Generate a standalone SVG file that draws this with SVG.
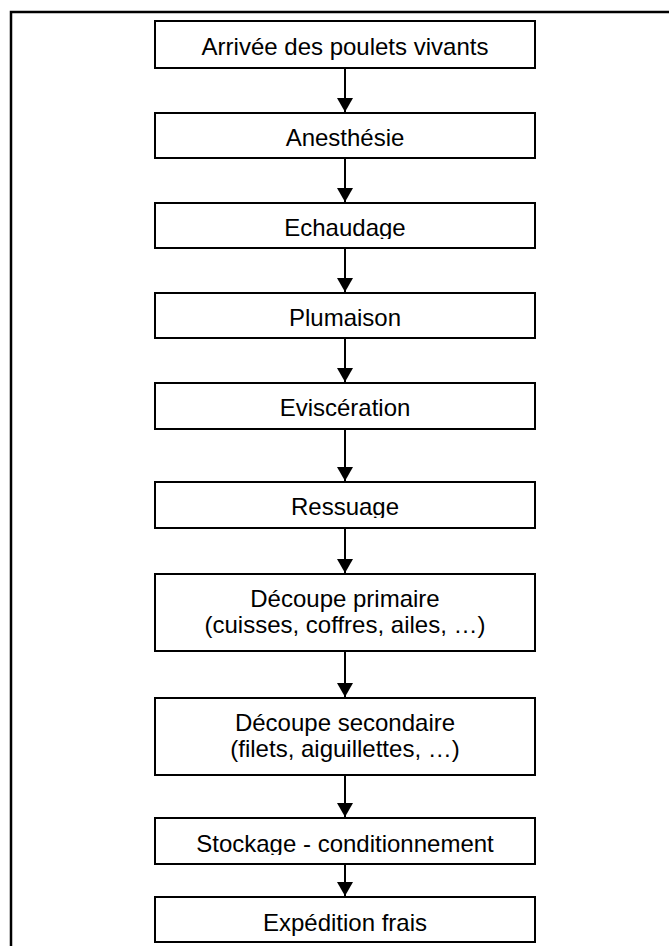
<svg xmlns="http://www.w3.org/2000/svg" width="669" height="946" viewBox="0 0 669 946">
<style>
.box{fill:#fff;stroke:#000;stroke-width:2}
.t{font-family:"Liberation Sans",Arial,sans-serif;font-size:24px;fill:#000;text-anchor:middle}
.c{stroke:#000;stroke-width:2;fill:none}
.frame{stroke:#000;stroke-width:2.5;fill:none}
</style>
<defs>
<marker id="ah" viewBox="0 0 14 16" refX="14" refY="8" markerWidth="14" markerHeight="16" markerUnits="userSpaceOnUse" orient="auto">
<path d="M0,0 L14,8 L0,16 Z" fill="#000"/>
</marker>
<clipPath id="c3"><rect x="155" y="203" width="380" height="36"/></clipPath>
<clipPath id="c6"><rect x="155" y="482" width="380" height="36"/></clipPath>
<clipPath id="c9"><rect x="155" y="818" width="380" height="37"/></clipPath>
</defs>
<path class="frame" d="M11,950 V12 H675"/>
<g id="connectors">
<line class="c" x1="345" y1="68" x2="345" y2="112" marker-end="url(#ah)"/>
<line class="c" x1="345" y1="158" x2="345" y2="202" marker-end="url(#ah)"/>
<line class="c" x1="345" y1="248" x2="345" y2="292" marker-end="url(#ah)"/>
<line class="c" x1="345" y1="338" x2="345" y2="382" marker-end="url(#ah)"/>
<line class="c" x1="345" y1="429" x2="345" y2="481" marker-end="url(#ah)"/>
<line class="c" x1="345" y1="528" x2="345" y2="573" marker-end="url(#ah)"/>
<line class="c" x1="345" y1="651" x2="345" y2="697" marker-end="url(#ah)"/>
<line class="c" x1="345" y1="775" x2="345" y2="817" marker-end="url(#ah)"/>
<line class="c" x1="345" y1="864" x2="345" y2="896" marker-end="url(#ah)"/>
</g>
<g id="n1"><rect class="box" x="155" y="21" width="380" height="47"/><text class="t" x="345" y="55">Arrivée des poulets vivants</text></g>
<g id="n2"><rect class="box" x="155" y="113" width="380" height="45"/><text class="t" x="345" y="146">Anesthésie</text></g>
<g id="n3"><rect class="box" x="155" y="203" width="380" height="45"/><text class="t" x="345" y="236" clip-path="url(#c3)">Echaudage</text></g>
<g id="n4"><rect class="box" x="155" y="293" width="380" height="45"/><text class="t" x="345" y="326">Plumaison</text></g>
<g id="n5"><rect class="box" x="155" y="383" width="380" height="46"/><text class="t" x="345" y="416">Eviscération</text></g>
<g id="n6"><rect class="box" x="155" y="482" width="380" height="46"/><text class="t" x="345" y="515" clip-path="url(#c6)">Ressuage</text></g>
<g id="n7"><rect class="box" x="155" y="574" width="380" height="77"/><text class="t" x="345" y="607">Découpe primaire</text><text class="t" x="345" y="633">(cuisses, coffres, ailes, …)</text></g>
<g id="n8"><rect class="box" x="155" y="698" width="380" height="77"/><text class="t" x="345" y="731">Découpe secondaire</text><text class="t" x="345" y="757">(filets, aiguillettes, …)</text></g>
<g id="n9"><rect class="box" x="155" y="818" width="380" height="46"/><text class="t" x="345" y="852" clip-path="url(#c9)">Stockage - conditionnement</text></g>
<g id="n10"><rect class="box" x="155" y="897" width="380" height="45"/><text class="t" x="345" y="931">Expédition frais</text></g>
</svg>
